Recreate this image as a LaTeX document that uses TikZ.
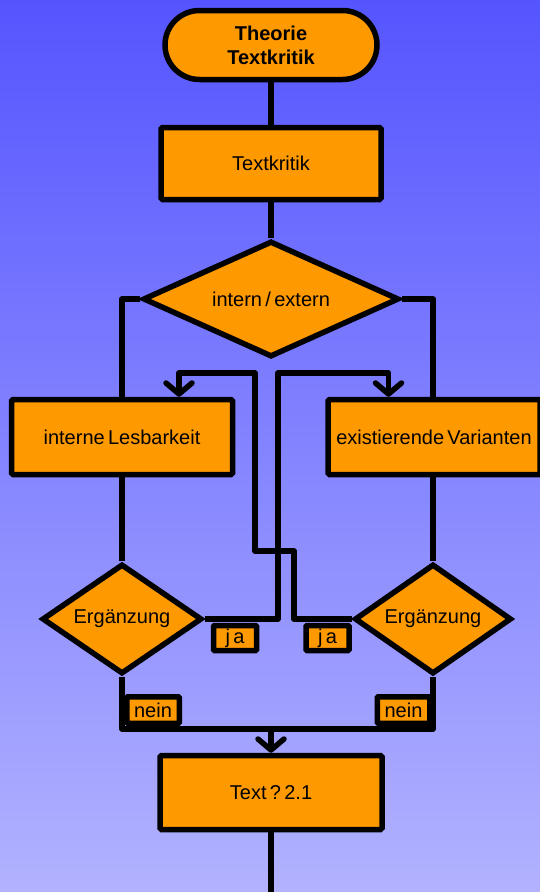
\documentclass[tikz,border=0pt]{standalone}
\usepackage{fontspec}
\setmainfont{Liberation Sans}
\usetikzlibrary{positioning, shapes.geometric, shapes.misc, arrows.meta}
\definecolor{himmel}{RGB}{85,85,255}
\definecolor{flieder}{RGB}{178,178,255}
\definecolor{kasten}{RGB}{255,153,0}

\begin{document}
\begin{tikzpicture}[x=1pt, y=-1pt, line width=5.5pt,
		schrift/.style={font=\fontsize{20}{24}\selectfont},
		term/.style={schrift, rounded rectangle, draw, fill=kasten, font=\fontsize{20}{24}\selectfont\bfseries, align=center, inner sep=0pt, minimum width=212pt, minimum height=69pt},
		box/.style={schrift, rectangle, draw, fill=kasten, rounded corners=1.5pt, inner sep=0pt},
		choice/.style={schrift, diamond, draw, fill=kasten, inner sep=0pt, aspect=2.2},
		tag/.style={schrift, rectangle, draw, fill=kasten, rounded corners=1pt, inner sep=0pt, minimum height=25pt},
		conn/.style={draw, line join=round},
		pfeil/.style={conn, -{Straight Barb[length=11pt, width=26pt, round]}}]
				\useasboundingbox (0,0) rectangle (540,892);
				\shade[top color=himmel, bottom color=flieder] (0,0) rectangle (540,892);

				% Knoten
				\node [term] (start) at (271,45) {Theorie\\Textkritik};
				\node [box, minimum width=220pt, minimum height=72pt] (tk) at (271,163.5) {Textkritik};
				\node [choice, minimum width=256pt, minimum height=116pt] (wahl) at (271,299) {intern\,/\,extern};
				\node [box, minimum width=221pt, minimum height=75pt] (intl) at (122,437) {interne\,Lesbarkeit};
				\node [box, minimum width=212pt, minimum height=75pt] (ext) [right=90pt of intl] {existierende\,Varianten};
				\node [choice, aspect=1.45, minimum width=160pt, minimum height=110pt] (ergL) at (122,619) {Ergänzung};
				\node [choice, aspect=1.45, minimum width=157pt, minimum height=110pt] (ergR) at (433,619) {Ergänzung};
				\node [box, minimum width=222pt, minimum height=74pt] (res) at (271,792.5) {Text\,?\,2.1};
				\node [tag, minimum width=43pt] (jaL) at (235,638) {j\,a};
				\node [tag, minimum width=43pt] (jaR) [right=44pt of jaL] {j\,a};
				\node [tag, minimum width=52.5pt, minimum height=26.5pt] (neinL) at (153,710) {nein};
				\node [tag, minimum width=52.5pt, minimum height=26.5pt] (neinR) at (403.5,710) {nein};

				\coordinate (kL) at (278,373);
				\coordinate (kR1) at (294,551);
				\coordinate (kR2) at (255,373);
				\coordinate (jn) at (271,729);
				\coordinate (ende) at (271,892);

				% Verbindungen
				\draw [conn] (start.south) -- (tk.north);
				\draw [conn] (tk.south) -- (wahl.north);
				\draw [conn] (wahl.west) -| (intl.north);
				\draw [conn] (wahl.east) -| (ergR.north |- ext.north);
				\draw [conn] (intl.south) -- (ergL.north);
				\draw [conn] (ergR.north |- ext.south) -- (ergR.north);
				\draw [pfeil] (ergL.east) -| (kL) -| ([xshift=-45.5pt]ext.north);
				\draw [pfeil] (ergR.west) -| (kR1) -| (kR2) -| ([xshift=57pt]intl.north);
				\fill (kL |- kR1) circle (4pt);
				\draw [conn] (ergL.south) |- (jn) -| (ergR.south);
				\draw [pfeil] (jn) -- (res.north);
				\draw [conn] (res.south) -- (ende);
\end{tikzpicture}
\end{document}
